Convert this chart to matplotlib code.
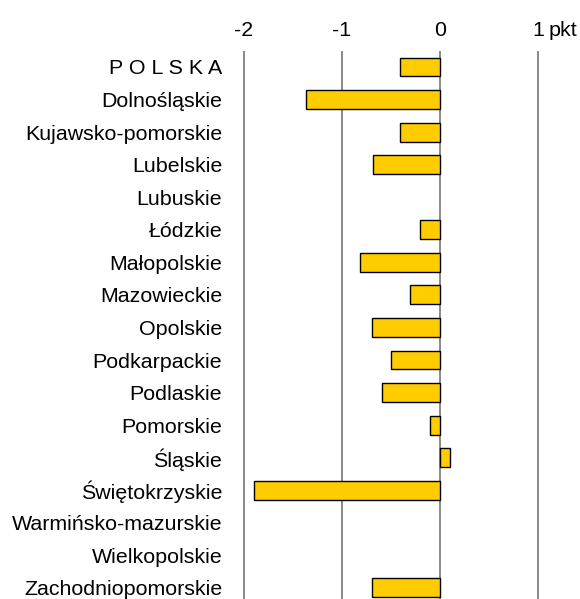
import matplotlib
matplotlib.use("Agg")
import matplotlib.pyplot as plt

plt.rcParams['font.family'] = ['Liberation Sans', 'DejaVu Sans']

nan = float("nan")
regions = ["P O L S K A", "Dolnośląskie", "Kujawsko-pomorskie", "Lubelskie", "Lubuskie",
           "Łódzkie", "Małopolskie", "Mazowieckie", "Opolskie", "Podkarpackie",
           "Podlaskie", "Pomorskie", "Śląskie", "Świętokrzyskie",
           "Warmińsko-mazurskie", "Wielkopolskie", "Zachodniopomorskie"]
values = [-0.41, -1.36, -0.41, -0.68, nan, -0.2, -0.81, -0.3, -0.69, -0.5,
          -0.59, -0.1, 0.1, -1.9, nan, nan, -0.69]
ticks = [-2, -1, 0, 1]
tick_labels = ["-2", "-1", "0", "1"]

fig = plt.figure(figsize=(5.8, 5.99), dpi=100)
ax = fig.add_axes([230 / 580, 0, 350 / 580, 548 / 599])

ypos = list(range(len(regions)))
ax.barh(ypos, values, height=0.58, color="#FFCC00", edgecolor="black", linewidth=1, zorder=3)

ax.set_xlim(-2.14, 1.43)
ax.set_ylim(16.34, -0.49)
ax.set_yticks(ypos)
ax.set_yticklabels(regions, fontsize=15.4)
ax.set_xticks(ticks)
ax.set_xticklabels(tick_labels, fontsize=15.4)
ax.xaxis.tick_top()
ax.tick_params(axis="x", length=0, pad=8)
ax.tick_params(axis="y", length=0, pad=5.5)
ax.grid(axis="x", color="#808080", linewidth=1.3, zorder=0)
for s in ax.spines.values():
    s.set_visible(False)

ax.annotate("pkt", xy=(1, 1), xycoords=("data", "axes fraction"),
            xytext=(8, 8), textcoords="offset points", ha="left", va="bottom",
            fontsize=15.4)

fig.savefig("out.png", dpi=100)
